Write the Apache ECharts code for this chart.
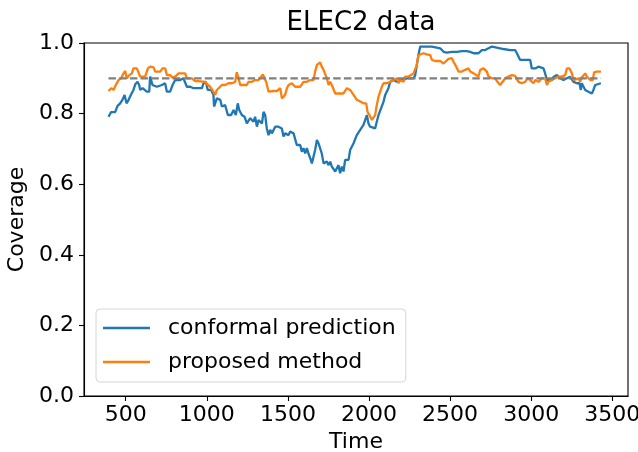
<!DOCTYPE html>
<html>
<head>
<meta charset="utf-8">
<script src="https://cdn.jsdelivr.net/npm/echarts@6/dist/echarts.min.js"></script>
<style>
html,body{margin:0;padding:0;background:#fff;}
#chart{width:638px;height:452px;}
</style>
</head>
<body>
<div id="chart"></div>
<script>
const xTicks = [500, 1000, 1500, 2000, 2500, 3000, 3500];
const targetLevel = 0.9;
const targetRange = [394, 3430];

const conformalT = [394,410,435,450,466,480,493,505,518,534,548,559,573,583,590,604,616,630,645,651,665,692,723,743,754,774,789,805,836,856,867,877,898,908,918,970,980,994,1006,1027,1041,1045,1062,1083,1093,1113,1130,1150,1165,1179,1191,1200,1216,1233,1247,1268,1288,1298,1309,1319,1329,1340,1350,1360,1370,1381,1391,1401,1411,1422,1442,1453,1463,1473,1483,1494,1504,1514,1524,1535,1545,1555,1576,1586,1596,1607,1617,1627,1638,1648,1658,1668,1679,1689,1699,1709,1720,1740,1751,1761,1771,1781,1792,1802,1812,1822,1833,1843,1853,1874,1884,1905,1925,1946,1966,1977,1987,1997,2007,2018,2038,2048,2059,2069,2090,2100,2110,2120,2131,2141,2151,2172,2192,2213,2233,2254,2275,2285,2295,2305,2316,2336,2388,2398,2439,2460,2480,2511,2521,2542,2573,2603,2624,2645,2675,2696,2716,2737,2758,2788,2829,2871,2901,2912,2932,2963,2994,3004,3025,3045,3076,3086,3097,3127,3138,3158,3179,3199,3220,3240,3261,3282,3298,3306,3312,3323,3333,3353,3374,3384,3395,3405,3430];
const conformalV = [0.791,0.804,0.804,0.822,0.829,0.839,0.853,0.829,0.839,0.855,0.867,0.883,0.890,0.881,0.867,0.872,0.867,0.862,0.862,0.905,0.881,0.876,0.881,0.886,0.862,0.862,0.881,0.895,0.895,0.900,0.895,0.876,0.876,0.881,0.872,0.872,0.886,0.890,0.867,0.867,0.853,0.820,0.843,0.839,0.820,0.824,0.796,0.796,0.810,0.796,0.829,0.810,0.796,0.791,0.772,0.787,0.777,0.791,0.763,0.782,0.782,0.772,0.805,0.796,0.758,0.739,0.754,0.744,0.739,0.763,0.763,0.768,0.758,0.735,0.744,0.749,0.739,0.749,0.744,0.744,0.739,0.711,0.711,0.692,0.702,0.687,0.702,0.687,0.673,0.659,0.664,0.697,0.725,0.716,0.711,0.687,0.659,0.664,0.654,0.664,0.650,0.654,0.636,0.645,0.654,0.631,0.650,0.636,0.669,0.669,0.697,0.716,0.739,0.754,0.768,0.768,0.796,0.772,0.763,0.758,0.758,0.777,0.796,0.801,0.834,0.853,0.857,0.872,0.890,0.895,0.895,0.890,0.895,0.895,0.900,0.900,0.900,0.909,0.938,0.966,0.990,0.990,0.990,0.985,0.985,0.975,0.973,0.975,0.980,0.975,0.977,0.977,0.975,0.971,0.971,0.980,0.980,0.985,0.990,0.987,0.983,0.980,0.980,0.971,0.952,0.952,0.952,0.928,0.928,0.933,0.928,0.914,0.895,0.895,0.904,0.909,0.900,0.895,0.900,0.904,0.890,0.886,0.886,0.867,0.886,0.886,0.867,0.862,0.857,0.867,0.881,0.886,0.886];

const proposedT = [394,411,425,439,456,472,487,497,507,522,538,548,569,579,589,620,637,651,672,682,713,727,744,754,774,789,805,826,867,877,908,928,949,990,1007,1021,1041,1052,1062,1072,1093,1113,1134,1155,1175,1185,1196,1206,1247,1257,1278,1288,1298,1319,1329,1346,1354,1366,1381,1411,1432,1453,1463,1473,1483,1494,1504,1524,1535,1545,1576,1596,1617,1638,1658,1668,1679,1689,1699,1709,1720,1730,1740,1751,1761,1771,1792,1812,1843,1864,1884,1905,1925,1946,1966,1983,1991,2003,2018,2028,2038,2048,2059,2069,2079,2090,2110,2131,2151,2172,2182,2192,2213,2223,2244,2254,2275,2285,2295,2305,2316,2336,2357,2377,2388,2408,2439,2460,2470,2490,2511,2521,2538,2552,2573,2593,2614,2624,2645,2655,2675,2686,2706,2727,2737,2758,2778,2792,2809,2819,2840,2860,2881,2901,2922,2942,2963,2977,2994,3014,3025,3045,3066,3086,3097,3107,3127,3148,3169,3189,3210,3220,3236,3251,3261,3271,3292,3302,3312,3323,3333,3343,3364,3380,3388,3405,3430];
const proposedV = [0.864,0.872,0.867,0.881,0.895,0.900,0.914,0.921,0.900,0.909,0.914,0.928,0.928,0.930,0.905,0.905,0.928,0.933,0.931,0.919,0.919,0.928,0.928,0.909,0.909,0.902,0.905,0.914,0.914,0.900,0.900,0.892,0.892,0.890,0.881,0.876,0.862,0.853,0.867,0.872,0.881,0.881,0.886,0.886,0.890,0.917,0.900,0.881,0.881,0.890,0.890,0.886,0.895,0.895,0.900,0.911,0.909,0.890,0.862,0.864,0.864,0.872,0.843,0.839,0.853,0.872,0.881,0.886,0.881,0.876,0.876,0.890,0.890,0.895,0.895,0.919,0.938,0.942,0.945,0.933,0.924,0.924,0.900,0.881,0.890,0.881,0.857,0.857,0.857,0.872,0.867,0.853,0.839,0.834,0.829,0.829,0.805,0.796,0.782,0.777,0.796,0.824,0.848,0.853,0.876,0.886,0.886,0.890,0.895,0.900,0.886,0.895,0.890,0.905,0.905,0.909,0.914,0.919,0.938,0.966,0.971,0.971,0.968,0.966,0.952,0.949,0.949,0.942,0.947,0.955,0.957,0.947,0.933,0.919,0.919,0.924,0.928,0.919,0.914,0.914,0.905,0.924,0.928,0.919,0.905,0.900,0.900,0.890,0.881,0.886,0.900,0.905,0.909,0.907,0.890,0.886,0.890,0.900,0.895,0.886,0.895,0.890,0.900,0.900,0.881,0.890,0.895,0.900,0.905,0.905,0.909,0.928,0.928,0.914,0.895,0.900,0.900,0.890,0.902,0.905,0.914,0.905,0.895,0.895,0.917,0.919,0.919];

const zip = (a, b) => a.map((t, i) => [t, b[i]]);
const FONT = 'DejaVu Sans';

const chart = echarts.init(document.getElementById('chart'), null, {renderer: 'canvas'});
chart.setOption({
  animation: false,
  backgroundColor: '#ffffff',
  title: {
    text: 'ELEC2 data',
    left: 356, top: 5, textAlign: 'center',
    textStyle: {fontFamily: FONT, fontSize: 26, fontWeight: 'normal', color: '#000'}
  },
  grid: {left: 84, right: 10, top: 43, bottom: 56, show: true, borderColor: '#000', borderWidth: 1.1, backgroundColor: 'transparent', containLabel: false, outerBoundsMode: 'none'},
  legend: {
    left: 96, top: 309, orient: 'vertical',
    data: ['conformal prediction', 'proposed method'],
    icon: 'rect', itemWidth: 47, itemHeight: 2.4, itemGap: 12,
    padding: [8, 10, 9, 7],
    backgroundColor: 'rgba(255,255,255,0.8)', borderColor: '#d6d6d6', borderWidth: 1, borderRadius: 4,
    textStyle: {fontFamily: FONT, fontSize: 22, color: '#000', padding: [0, 0, 0, 13], lineHeight: 22}
  },
  xAxis: {
    type: 'value', min: 243, max: 3597,
    name: 'Time', nameLocation: 'middle', nameGap: 29,
    nameTextStyle: {fontFamily: FONT, fontSize: 22, color: '#000'},
    axisLine: {show: true, onZero: false, lineStyle: {color: '#000', width: 1.1}},
    axisTick: {show: true, length: 5, lineStyle: {color: '#000', width: 1.1}, customValues: xTicks},
    axisLabel: {fontFamily: FONT, fontSize: 22, color: '#000', margin: 8, customValues: xTicks, formatter: v => String(v)},
    splitLine: {show: false}
  },
  yAxis: {
    type: 'value', min: 0, max: 1, interval: 0.2,
    name: 'Coverage', nameLocation: 'middle', nameGap: 50,
    nameTextStyle: {fontFamily: FONT, fontSize: 22, color: '#000'},
    axisLine: {show: true, lineStyle: {color: '#000', width: 1.1}},
    axisTick: {show: true, length: 5, lineStyle: {color: '#000', width: 1.1}},
    axisLabel: {fontFamily: FONT, fontSize: 22, color: '#000', margin: 10, formatter: v => v.toFixed(1)},
    splitLine: {show: false}
  },
  series: [
    {name: 'conformal prediction', type: 'line', data: zip(conformalT, conformalV), symbol: 'none', lineStyle: {color: '#1f77b4', width: 2.3}, itemStyle: {color: '#1f77b4'}, z: 2},
    {name: 'proposed method', type: 'line', data: zip(proposedT, proposedV), symbol: 'none', lineStyle: {color: '#ff7f0e', width: 2.3}, itemStyle: {color: '#ff7f0e'}, z: 3},
    {name: 'target', type: 'line', data: targetRange.map(t => [t, targetLevel]), symbol: 'none', lineStyle: {color: '#808080', width: 2.3, type: [7.5, 3.2]}, itemStyle: {color: '#808080'}, z: 4, silent: true}
  ]
});
</script>
</body>
</html>
